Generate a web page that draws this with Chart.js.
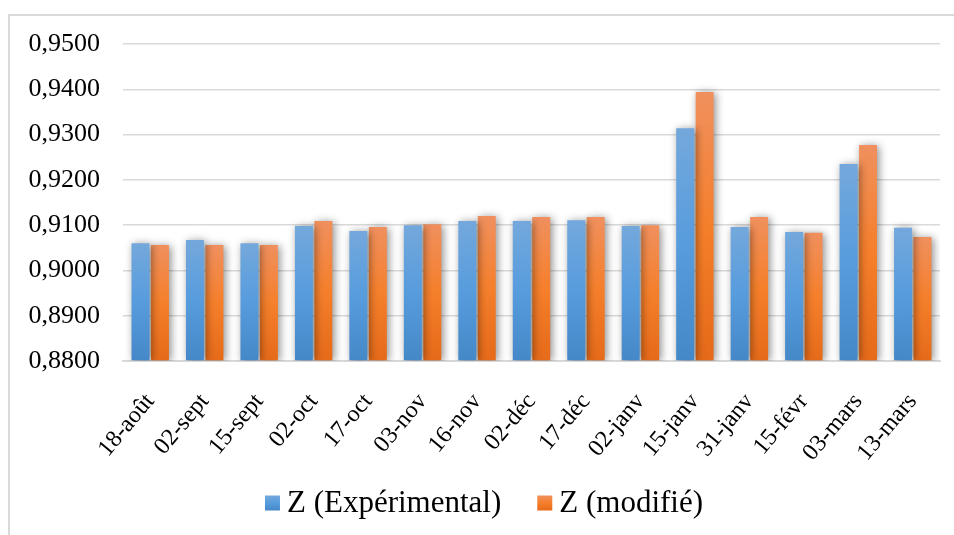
<!DOCTYPE html>
<html>
<head>
<meta charset="utf-8">
<script src="https://cdn.jsdelivr.net/npm/chart.js@4/dist/chart.umd.min.js"></script>
<style>
  html, body { margin: 0; padding: 0; background: #ffffff; }
  #wrap { position: relative; width: 954px; height: 535px; }
</style>
</head>
<body>
<div id="wrap"><canvas id="c" width="954" height="535"></canvas></div>
<script>
// Measurement dates
const categories = ['18-août', '02-sept', '15-sept', '02-oct', '17-oct', '03-nov', '16-nov',
  '02-déc', '17-déc', '02-janv', '15-janv', '31-janv', '15-févr', '03-mars', '13-mars'];

// Compressibility factor Z
const zExperimental = [0.9060, 0.9067, 0.9060, 0.9098, 0.9087, 0.9100, 0.9109,
  0.9109, 0.9111, 0.9098, 0.9314, 0.9096, 0.9085, 0.9235, 0.9094];
const zModifie = [0.9056, 0.9056, 0.9056, 0.9109, 0.9096, 0.9102, 0.9120,
  0.9118, 0.9118, 0.9100, 0.9394, 0.9118, 0.9083, 0.9277, 0.9074];

const seriesLabels = ['Z (Expérimental)', 'Z (modifié)'];

// Value axis ticks
const yTicks = [0.88, 0.89, 0.90, 0.91, 0.92, 0.93, 0.94, 0.95];
const yMin = yTicks[0];
const yMax = yTicks[yTicks.length - 1];

const SERIF = '"Liberation Serif", "Times New Roman", serif';

const blueStops = [[0, '#74A8DC'], [0.5, '#579CDD'], [1, '#4588C8']];
const orangeStops = [[0, '#F0905E'], [0.5, '#F57F2B'], [1, '#E56A19']];

function verticalGradient(ctx, top, bottom, stops) {
  const g = ctx.createLinearGradient(0, top, 0, bottom);
  stops.forEach(s => g.addColorStop(s[0], s[1]));
  return g;
}

function barFill(stops) {
  return (context) => {
    const chart = context.chart;
    const yScale = chart.scales.y;
    if (!chart.chartArea || !yScale || context.type !== 'data') return stops[1][1];
    const top = yScale.getPixelForValue(context.raw);
    const bottom = yScale.getPixelForValue(yMin);
    return verticalGradient(chart.ctx, top, bottom, stops);
  };
}

// Frame lines around the chart object
const framePlugin = {
  id: 'frame',
  beforeDraw(chart) {
    const c = chart.ctx;
    c.save();
    c.strokeStyle = '#D9D9D9';
    c.lineWidth = 2;
    c.beginPath();
    c.moveTo(9, 536);
    c.lineTo(9, 15);
    c.lineTo(955, 15);
    c.stroke();
    c.restore();
  }
};

// Soft drop shadow under the bars
const shadowPlugin = {
  id: 'barShadow',
  beforeDatasetsDraw(chart) {
    const c = chart.ctx;
    c.save();
    c.shadowColor = 'rgba(0,0,0,0.45)';
    c.shadowBlur = 8;
    c.shadowOffsetX = 2;
    c.shadowOffsetY = 1;
  },
  afterDatasetsDraw(chart) {
    chart.ctx.restore();
  }
};

// Legend with small gradient squares below the axis labels
const legendPlugin = {
  id: 'bottomLegend',
  afterDraw(chart) {
    const c = chart.ctx;
    const fontSize = 31;
    const box = 15, gapText = 7, gapItems = 36;
    const centerX = 484, centerY = 503;
    c.save();
    c.font = fontSize + 'px ' + SERIF;
    const widths = seriesLabels.map(t => c.measureText(t).width);
    const total = widths.reduce((a, w) => a + box + gapText + w, 0) + gapItems * (seriesLabels.length - 1);
    let x = centerX - total / 2;
    const stopsList = [blueStops, orangeStops];
    seriesLabels.forEach((t, i) => {
      const top = centerY - box / 2;
      c.fillStyle = verticalGradient(c, top, top + box, stopsList[i]);
      c.fillRect(x, top, box, box);
      x += box + gapText;
      c.fillStyle = '#000000';
      c.textBaseline = 'middle';
      c.textAlign = 'left';
      c.fillText(t, x, centerY + 1);
      x += widths[i] + gapItems;
    });
    c.restore();
  }
};

new Chart(document.getElementById('c'), {
  type: 'bar',
  data: {
    labels: categories,
    datasets: [
      { label: seriesLabels[0], data: zExperimental, backgroundColor: barFill(blueStops) },
      { label: seriesLabels[1], data: zModifie, backgroundColor: barFill(orangeStops) }
    ]
  },
  options: {
    responsive: false,
    animation: false,
    devicePixelRatio: 1,
    layout: { padding: { left: 27, right: 14, top: 44, bottom: 0 } },
    datasets: {
      bar: { base: yMin, barPercentage: 0.92, categoryPercentage: 0.716, borderWidth: 0 }
    },
    plugins: {
      legend: { display: false },
      tooltip: { enabled: false }
    },
    scales: {
      x: {
        grid: { display: false, drawTicks: false },
        border: { display: true, color: '#D9D9D9', width: 2 },
        ticks: {
          color: '#000000',
          font: { family: SERIF, size: 24 },
          minRotation: 50,
          maxRotation: 50,
          padding: 27,
          autoSkip: false
        },
        afterFit(scale) {
          scale.height = 174;
          scale.paddingLeft = 0;
          scale.paddingRight = 0;
        }
      },
      y: {
        min: yMin,
        max: yMax,
        grid: { color: '#D9D9D9', lineWidth: 1.5, drawTicks: false },
        border: { display: false },
        ticks: {
          color: '#000000',
          font: { family: SERIF, size: 26 },
          padding: 23,
          callback: (v) => Number(v).toFixed(4).replace('.', ',')
        },
        afterBuildTicks(scale) { scale.ticks = yTicks.map(v => ({ value: v })); },
        afterFit(scale) { scale.width = 96; }
      }
    }
  },
  plugins: [framePlugin, shadowPlugin, legendPlugin]
});
</script>
</body>
</html>
